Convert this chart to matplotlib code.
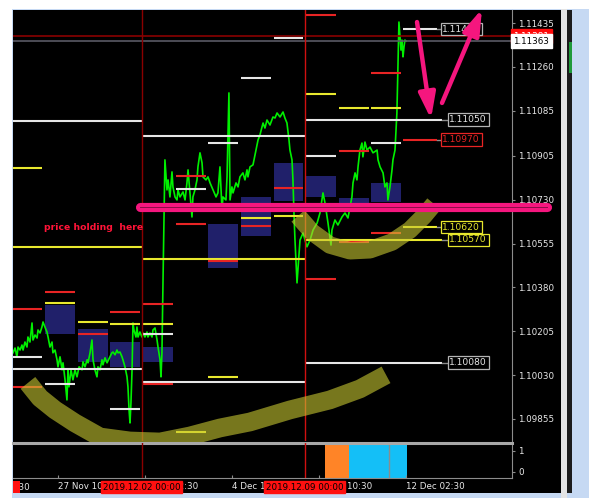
import matplotlib
matplotlib.use("Agg")
import matplotlib.pyplot as plt
from matplotlib.patches import Rectangle
from matplotlib.transforms import blended_transform_factory, Bbox, TransformedBbox

W, H, DPI = 589, 498, 100
plt.rcParams['font.family'] = ['DejaVu Sans']

# ---------------- data ----------------
# time = trading hours from 2019-12-02 00:00 (weekends removed)
price_h = [-94.7, -93.2, -91.8, -91.0, -89.5, -88.1, -87.3, -85.9, -84.4, -83.7, -82.2, -80.7, -80.0,
           -78.5, -77.0, -76.3, -74.8, -73.4, -72.6, -71.2, -69.7, -68.9, -67.5, -66.0, -65.3, -63.8,
           -62.3, -61.6, -60.1, -58.6, -57.9, -56.4, -55.0, -54.2, -53.5, -52.0, -50.6, -49.1, -47.6,
           -46.1, -43.9, -43.2, -41.7, -40.2, -39.5, -38.0, -36.6, -35.8, -34.4, -32.9, -32.2, -30.7,
           -29.2, -28.5, -27.0, -25.5, -23.3, -21.9, -21.1, -19.6, -18.2, -17.4, -16.0, -14.5, -13.8,
           -12.3, -10.8, -10.1, -9.3, -8.6, -7.9, -7.1, -6.4, -5.7, -4.2, -3.5, -2.7, -1.3, 0.2, 1.0,
           2.4, 3.9, 4.6, 6.1, 7.6, 8.3, 9.8, 11.3, 12.0, 13.5, 14.2, 14.9, 15.7, 17.1, 18.6, 19.4,
           20.8, 22.3, 23.0, 24.5, 26.0, 26.7, 28.2, 30.4, 31.9, 33.3, 34.1, 35.5, 37.0, 37.7, 39.2,
           40.7, 41.4, 42.9, 44.4, 45.1, 47.3, 48.8, 50.3, 52.5, 54.7, 56.1, 57.6, 59.1, 59.8, 62.0,
           62.8, 64.2, 65.0, 66.4, 67.2, 69.4, 70.9, 72.3, 74.5, 76.0, 77.5, 78.2, 79.7, 81.9, 84.1,
           85.6, 87.0, 89.3, 90.7, 92.2, 94.4, 96.6, 98.1, 99.6, 101.8, 104.0, 105.4, 106.9, 108.4,
           109.1, 110.6, 111.3, 112.1, 112.8, 114.3, 115.7, 116.5, 118.7, 121.6, 123.9, 126.1, 129.1,
           131.2, 133.4, 134.9, 136.4, 137.1, 139.3, 140.0, 142.2, 144.4, 147.4, 149.6, 151.8, 153.3,
           154.7, 155.5, 157.0, 158.4, 159.2, 160.6, 162.1, 162.8, 164.3, 165.8, 168.0, 170.2, 173.2,
           173.9, 175.4, 177.6, 179.0, 180.5, 181.2, 182.7, 184.2, 184.9, 186.4, 187.8, 188.6, 189.3,
           190.8, 191.5, 192.3, 193.0, 193.7, 194.5]
price_v = [1.10119, 1.10138, 1.10103, 1.10142, 1.10130, 1.10150, 1.10130, 1.10162, 1.10142, 1.10182,
           1.10162, 1.10238, 1.10170, 1.10190, 1.10178, 1.10210, 1.10198, 1.10222, 1.10242, 1.10222,
           1.10202, 1.10182, 1.10142, 1.10162, 1.10119, 1.10130, 1.10091, 1.10063, 1.10103, 1.10051,
           1.10079, 1.10011, 1.09931, 1.10051, 1.09983, 1.10051, 1.10011, 1.10051, 1.10023, 1.10063,
           1.10051, 1.10083, 1.10063, 1.10091, 1.10079, 1.10119, 1.10170, 1.10091, 1.10051, 1.10023,
           1.10063, 1.10051, 1.10091, 1.10071, 1.10099, 1.10079, 1.10103, 1.10119, 1.10122, 1.10111,
           1.10130, 1.10119, 1.10122, 1.10103, 1.10091, 1.10063, 1.10023, 1.09983, 1.09891, 1.09839,
           1.09919, 1.10051, 1.10238, 1.10210, 1.10182, 1.10222, 1.10182, 1.10202, 1.10182, 1.10198,
           1.10182, 1.10202, 1.10182, 1.10198, 1.10182, 1.10210, 1.10218, 1.10170, 1.10142, 1.10091,
           1.10023, 1.10119, 1.10410, 1.10889, 1.10769, 1.10809, 1.10741, 1.10841, 1.10781, 1.10741,
           1.10729, 1.10769, 1.10741, 1.10761, 1.10729, 1.10797, 1.10849, 1.10757, 1.10661, 1.10741,
           1.10769, 1.10809, 1.10861, 1.10917, 1.10877, 1.10821, 1.10809, 1.10821, 1.10797, 1.10769,
           1.10741, 1.10757, 1.10861, 1.10689, 1.10741, 1.10729, 1.10821, 1.11156, 1.10729, 1.10781,
           1.10757, 1.10797, 1.10781, 1.10821, 1.10837, 1.10809, 1.10849, 1.10821, 1.10861, 1.10869,
           1.10928, 1.10968, 1.10988, 1.11036, 1.11016, 1.11048, 1.11028, 1.11060, 1.11056, 1.11076,
           1.11060, 1.11080, 1.11056, 1.11036, 1.10968, 1.10928, 1.10889, 1.10809, 1.10669, 1.10569,
           1.10398, 1.10510, 1.10569, 1.10597, 1.10542, 1.10569, 1.10609, 1.10637, 1.10677, 1.10757,
           1.10717, 1.10661, 1.10637, 1.10549, 1.10609, 1.10649, 1.10629, 1.10661, 1.10677, 1.10657,
           1.10701, 1.10741, 1.10797, 1.10837, 1.10809, 1.10861, 1.10928, 1.10956, 1.10901, 1.10960,
           1.10928, 1.10940, 1.10917, 1.10928, 1.10889, 1.10861, 1.10837, 1.10781, 1.10797, 1.10729,
           1.10781, 1.10849, 1.10889, 1.10928, 1.11076, 1.11260, 1.11439, 1.11327, 1.11367, 1.11300,
           1.11339, 1.11367, 1.11363]

# daily levels (day start in hours, price, colour key)
level_day = [-96, -96, -96, -96, -72, -72, -72, -48, -48, -24, -24, -24, 0, 0, 0, 0,
             24, 24, 24, 24, 48, 48, 48, 72, 72, 72, 96, 96, 96, 120, 120, 120, 120,
             144, 144, 144, 168, 168, 168, 168]
level_price = [1.10857, 1.10294, 1.10103, 1.09983, 1.10362, 1.10318, 1.09995, 1.10242, 1.10194,
               1.10282, 1.10234, 1.09895, 1.10314, 1.10234, 1.10194, 1.09995,
               1.10825, 1.10773, 1.10633, 1.09803, 1.10956, 1.10486, 1.10023,
               1.11216, 1.10657, 1.10625, 1.11375, 1.10777, 1.10665,
               1.11467, 1.11152, 1.10905, 1.10414, 1.11096, 1.10924, 1.10561,
               1.11236, 1.11096, 1.10956, 1.10597]
level_color = ['y', 'r', 'w', 'r', 'r', 'y', 'w', 'y', 'r', 'r', 'y', 'w', 'r', 'y', 'w', 'r',
               'r', 'w', 'r', 'y', 'w', 'r', 'y', 'w', 'y', 'r', 'w', 'r', 'y',
               'r', 'y', 'w', 'r', 'y', 'r', 'r', 'r', 'y', 'w', 'r']

# daily range boxes
box_day = [-72, -48, -24, 0, 48, 72, 96, 120, 144, 168]
box_hi = [1.10310, 1.10214, 1.10162, 1.10142, 1.10633, 1.10741, 1.10877, 1.10825, 1.10737, 1.10797]
box_lo = [1.10194, 1.10083, 1.10063, 1.10083, 1.10458, 1.10585, 1.10725, 1.10741, 1.10689, 1.10721]

# weekly levels
week_start = [-120, 0, 120]
week_end = [0, 120, 221]
week_hi = [1.11045, 1.10984, 1.11050]
week_mid = [1.10542, 1.10494, 1.10570]
week_lo = [1.10055, 1.10003, 1.10080]

# current-day levels with price labels
today_start, today_end = 192.5, 217.3
today_price = [1.11410, 1.10970, 1.10620]
today_color = ['w', 'r', 'y']
today_label = ['1.11410', '1.10970', '1.10620']
week_label = ['1.11050', '1.10570', '1.10080']

bid, ask = 1.11363, 1.11383
bid_label = '1.11363'

price_ticks = [1.11435, 1.11260, 1.11085, 1.10905, 1.10730, 1.10555, 1.10380, 1.10205, 1.10030, 1.09855]
first_tick, first_label = -125.5, '26 Nov 18:30'
time_ticks = [-61.5, 2.5, 66.5, 130.5, 194.5]
time_labels = ['27 Nov 10:30', '2 Dec 02:30', '4 Dec 18:30', '9 Dec 10:30', '12 Dec 02:30']
vline_h = [0, 120]
vline_labels = ['2019.12.02 00:00', '2019.12.09 00:00']

# indicator sub-window blocks
sub_start = [134.9, 152.5, 182.2]
sub_end = [152.5, 181.7, 195.0]
sub_color = ['#ff8427', '#14bff7', '#14bff7']

# hand-drawn annotations
band1_h = [-83.7, -74.8, -63.8, -49.1, -30.7, -8.6, 13.5, 35.5, 57.6, 79.7, 109.1, 138.5, 160.6, 179.8]
band1_p = [1.09999, 1.09939, 1.09891, 1.09839, 1.09783, 1.09767, 1.09763, 1.09787, 1.09819, 1.09843,
           1.09891, 1.09931, 1.09975, 1.10031]
band2_h = [115.0, 125.3, 138.5, 153.3, 168.0, 184.2, 197.4, 207.7, 215.1]
band2_p = [1.10665, 1.10601, 1.10549, 1.10526, 1.10530, 1.10561, 1.10609, 1.10665, 1.10713]
support_h = [-0.9, 297.9]
support_p = 1.10699
arrow_down = [(202.6, 1.11439), (212.9, 1.11052)]
arrow_up = [(221.0, 1.11116), (250.4, 1.11491)]
note_text = 'price holding  here'
note_pos = (-71.9, 1.10621)

# ---------------- styling ----------------
RED, YEL, WHT = '#e82424', '#e8e82e', '#e6e6e6'
CMAP = {'r': RED, 'y': YEL, 'w': WHT}
BOXC = '#20206a'
PINK = '#f5167e'
GRAY = '#8c8c8c'
LBLUE = '#c6d9f3'
XLIM = (-94.7, 272.5)

fig = plt.figure(figsize=(W / DPI, H / DPI), dpi=DPI, facecolor='white')


def fig_rect(x0, y0, x1, y1, color, z):
    fig.add_artist(Rectangle((x0 / W, 1 - y1 / H), (x1 - x0) / W, (y1 - y0) / H,
                             transform=fig.transFigure, facecolor=color, edgecolor='none', zorder=z))


fig_rect(12, 9, 589, 498, LBLUE, -20)
fig_rect(13, 10, 561, 493, 'black', -19)
fig_rect(561, 9, 567, 498, '#e4e4e4', -18)
fig_rect(567, 10, 572, 493, '#1c1c1c', -18)
fig_rect(569, 42, 572, 73, '#1f9a3a', -17)

ax = fig.add_axes([13 / W, 1 - 441 / H, 499 / W, 431 / H])
sub = fig.add_axes([13 / W, 1 - 478 / H, 499 / W, 35 / H], sharex=ax)
for a in (ax, sub):
    a.set_facecolor('black')
    for s in ('left', 'top', 'bottom'):
        a.spines[s].set_visible(False)
    a.spines['right'].set_color(GRAY)

ax.set_ylim(1.09767, 1.11487)

# boxes
ax.bar([d + 1 for d in box_day], [h - l for h, l in zip(box_hi, box_lo)], bottom=box_lo,
       width=22, align='edge', color=BOXC, zorder=1)

# weekly lines
for hi, mid, lo, s, e in zip(week_hi, week_mid, week_lo, week_start, week_end):
    ax.hlines([hi, lo], s, e, colors=WHT, lw=1.5, zorder=3)
    ax.hlines(mid, s, e, colors=YEL, lw=1.5, zorder=3)

# daily lines
ax.hlines(level_price, [d + 1 for d in level_day], [d + 23 for d in level_day],
          colors=[CMAP[c] for c in level_color], lw=1.5, zorder=3)
ax.hlines(today_price, today_start, today_end, colors=[CMAP[c] for c in today_color], lw=1.5, zorder=3)

# price line
ax.plot(price_h, price_v, color='#00f000', lw=1.2, zorder=2)

# bid / ask
ax.axhline(ask, color='#8a0000', lw=1.2, zorder=2.5)
ax.axhline(bid, color='#5a5a64', lw=1.2, zorder=2.5)

# vertical separators
for v, c in zip(vline_h, ['#8a0000', '#d01010']):
    ax.axvline(v, color=c, lw=1, zorder=4)
    sub.axvline(v, color=c, lw=1, zorder=4)

# hand-drawn bands
ax.plot(band1_h, band1_p, color='#c8c832', alpha=0.6, lw=13.5, solid_capstyle='butt',
        solid_joinstyle='round', clip_on=False, zorder=5)
ax.plot(band2_h, band2_p, color='#c8c832', alpha=0.6, lw=12.5, solid_capstyle='butt',
        solid_joinstyle='round', clip_on=False, zorder=5)

# pink support bar
ax.plot(support_h, [support_p, support_p], color=PINK, lw=6.6, solid_capstyle='round',
        clip_on=False, zorder=6)
ax.plot(support_h, [support_p, support_p], color='#8c0c48', lw=0.7, clip_on=False, zorder=6.1)

for (t, tip) in (arrow_down, arrow_up):
    ax.annotate('', xy=tip, xytext=t, annotation_clip=False, zorder=9,
                arrowprops=dict(arrowstyle='-|>,head_length=1.1,head_width=0.36', lw=3.2,
                                color=PINK, mutation_scale=14, shrinkA=0, shrinkB=0))

ax.text(note_pos[0], note_pos[1], note_text, color='#ff1438', fontsize=6.7, fontweight='bold',
        va='center', ha='left', zorder=7)


# labels at right end of lines
def price_box(x0, x1, p, txt, key):
    col = CMAP[key]
    ax.plot([x0, x1], [p, p], color=GRAY, lw=1, zorder=3, clip_on=False)
    ax.text(x1 + 1.0, p, txt, color=col, fontsize=6.6, va='center', ha='left', zorder=8,
            clip_on=False, bbox=dict(boxstyle='square,pad=0.18', fc='black',
                                     ec=('#b4b4b4' if key == 'w' else col), lw=0.9))


for p, t, k in zip(today_price, today_label, today_color):
    price_box(today_end, 220.3, p, t, k)
for p, t, k in zip([week_hi[2], week_mid[2], week_lo[2]], week_label, ['w', 'y', 'w']):
    price_box(week_end[2], 225.4, p, t, k)

# y axis on right
ax.yaxis.tick_right()
ax.set_yticks(price_ticks)
ax.set_yticklabels([f'{v:.5f}' for v in price_ticks])
ax.tick_params(axis='y', colors=GRAY, labelcolor='#e8e8e8', labelsize=6.3, length=2.5, pad=2.2)
ax.tick_params(axis='x', bottom=False, labelbottom=False)

bt = blended_transform_factory(ax.transAxes, ax.transData)
ax.text(1.003, ask, '1.11381', transform=bt, color='white', fontsize=6.3, va='center', ha='left',
        zorder=9, clip_on=False, bbox=dict(boxstyle='square,pad=0.25', fc='#ff0a0a', ec='#ff0a0a'))
ax.text(1.003, bid, bid_label, transform=bt, color='black', fontsize=6.3, va='center', ha='left',
        zorder=10, clip_on=False, bbox=dict(boxstyle='square,pad=0.25', fc='white', ec='white'))

# sub window
sub.set_ylim(-0.286, 1.381)
for s, e, c in zip(sub_start, sub_end, sub_color):
    sub.axvspan(s, e, color=c, lw=0, zorder=1)
sub.axvline(sub_end[1] + 0.25, color=GRAY, lw=1, zorder=2)
sub.spines['top'].set_visible(True)
sub.spines['top'].set_color('#a8a8a8')
sub.spines['top'].set_linewidth(2.2)
sub.spines['bottom'].set_visible(True)
sub.spines['bottom'].set_color(GRAY)
sub.yaxis.tick_right()
sub.set_yticks([0, 1])
sub.set_yticklabels(['0', '1'])
sub.tick_params(axis='y', colors=GRAY, labelcolor='#e8e8e8', labelsize=6.3, length=2.5, pad=2.2)
sub.set_xticks(time_ticks)
sub.set_xticklabels(time_labels)
sub.tick_params(axis='x', colors=GRAY, labelcolor='#e8e8e8', labelsize=6.3, length=2.5,
                direction='in', pad=3)
ax.set_xlim(*XLIM)
for lbl in sub.get_xticklabels():
    lbl.set_ha('left')

st = blended_transform_factory(sub.transData, sub.transAxes)
clipbox = TransformedBbox(Bbox([[13 / W, 0], [561 / W, 1]]), fig.transFigure)
t0 = sub.text(first_tick, -0.26, first_label, transform=st, color='#e8e8e8', fontsize=6.3,
              ha='left', va='center', zorder=3)
t0.set_clip_box(clipbox)
t0.set_clip_on(True)
for v, t in zip(vline_h, vline_labels):
    sub.text(v, -0.26, t, transform=st, color='black', fontsize=6.3, ha='center', va='center',
             zorder=10, clip_on=False, bbox=dict(boxstyle='square,pad=0.2', fc='#ff1010', ec='#ff1010'))
fig_rect(13, 481, 20, 493, '#ff1010', 5)

fig.savefig('out.png', dpi=DPI, facecolor='white')
